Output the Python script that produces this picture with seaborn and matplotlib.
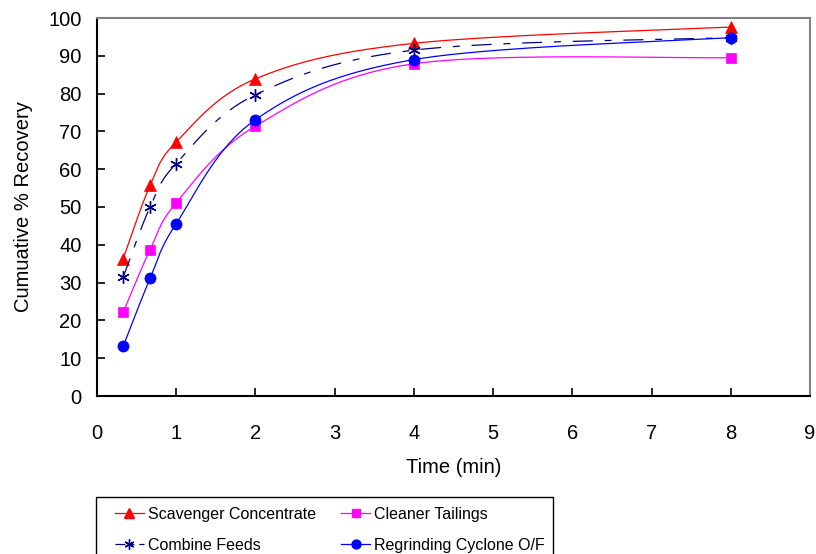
import numpy as np
import pandas as pd
import matplotlib
matplotlib.use("Agg")
import matplotlib.pyplot as plt
import seaborn as sns
from matplotlib.lines import Line2D
from matplotlib.patches import Rectangle

time_min = [0.33, 0.67, 1, 2, 4, 8]
scavenger = [36.3, 55.7, 67.2, 83.9, 93.3, 97.6]
cleaner = [22.1, 38.7, 51.1, 71.4, 87.9, 89.5]
combine = [31.4, 50.0, 61.5, 79.7, 91.5, 94.8]
regrind = [13.1, 31.1, 45.6, 73.1, 89.0, 94.8]
series_names = ["Scavenger Concentrate", "Cleaner Tailings", "Combine Feeds", "Regrinding Cyclone O/F"]
x_ticks = [0, 1, 2, 3, 4, 5, 6, 7, 8, 9]
y_ticks = [0, 10, 20, 30, 40, 50, 60, 70, 80, 90, 100]


def smooth(xs, ys, n=40):
    # Excel-style smoothed line: cubic Bezier through the points
    P = np.column_stack([xs, ys]).astype(float)
    out = []
    m = len(P)
    for i in range(m - 1):
        p0 = P[i - 1] if i > 0 else P[i]
        p1 = P[i]
        p2 = P[i + 1]
        p3 = P[i + 2] if i + 2 < m else P[i + 1]
        c1 = p1 + (p2 - p0) / 6.0
        c2 = p2 - (p3 - p1) / 6.0
        t = np.linspace(0, 1, n)[:, None]
        seg = ((1 - t) ** 3) * p1 + 3 * ((1 - t) ** 2) * t * c1 + 3 * (1 - t) * t ** 2 * c2 + t ** 3 * p2
        out.append(seg if i == 0 else seg[1:])
    return np.vstack(out)


plt.rcParams['font.family'] = ['Liberation Sans', 'DejaVu Sans']

fig = plt.figure(figsize=(8.16, 5.54), dpi=100)
ax = fig.add_axes([97 / 816, 1 - 396 / 554, (810 - 97) / 816, (396 - 18) / 554])

styles = [
    dict(color="#FF0000", marker="^", ms=9, ls="-", mfc="#FF0000"),
    dict(color="#FF00FF", marker="s", ms=7, ls="-", mfc="#FF00FF"),
    dict(color="#000080", marker=(6, 2, 0), ms=9, ls=(0, (16, 9.5, 5.5, 9.5)), mfc="#000080"),
    dict(color="#0000FF", marker="o", ms=8, ls="-", mfc="#0000FF"),
]
data = [scavenger, cleaner, combine, regrind]

for name, ys, st in zip(series_names, data, styles):
    curve = smooth(time_min, ys)
    df_c = pd.DataFrame({"x": curve[:, 0], "y": curve[:, 1]})
    sns.lineplot(data=df_c, x="x", y="y", sort=False, ax=ax, color=st["color"],
                 linewidth=0.9, linestyle=st["ls"])
    df_p = pd.DataFrame({"x": time_min, "y": ys})
    ax.plot(df_p["x"], df_p["y"], linestyle="none", marker=st["marker"], markersize=st["ms"],
            color=st["color"], markerfacecolor=st["mfc"],
            markeredgewidth=1.0 if st["marker"] == (6, 2, 0) else 0.5)

ax.set_xlim(0, 9)
ax.set_ylim(0, 100)
ax.set_xticks(x_ticks)
ax.set_yticks(y_ticks)
ax.tick_params(axis="x", direction="in", length=6, width=1.2, pad=20, labelsize=14.5)
ax.tick_params(axis="y", direction="in", length=6, width=1.2, pad=11, labelsize=14.5)
ax.set_xlabel("Time (min)", fontsize=14.5, labelpad=11)
ax.set_ylabel("Cumuative % Recovery", fontsize=14.5, labelpad=11)
for s in ["left", "bottom"]:
    ax.spines[s].set_color("black")
    ax.spines[s].set_linewidth(1.5)
for s in ["top", "right"]:
    ax.spines[s].set_color("#808080")
    ax.spines[s].set_linewidth(1.5)
ax.grid(False)
ax.set_facecolor("white")

# legend box
fig.patches.append(Rectangle((96 / 816, -0.05), (553 - 96) / 816, 1 - 497 / 554 + 0.05,
                             transform=fig.transFigure, fill=False, edgecolor="black",
                             linewidth=1.0, zorder=1))

handles = []
for name, st in zip(series_names, styles):
    handles.append(Line2D([0], [0], color=st["color"], linestyle=st["ls"] if st["ls"] == "-" else (0, (8, 4, 3, 4)),
                          linewidth=0.9, marker=st["marker"], markersize=st["ms"] * 0.8,
                          markerfacecolor=st["mfc"]))
order = [0, 2, 1, 3]
leg = fig.legend([handles[i] for i in order], [series_names[i] for i in order], ncol=2,
                 loc="upper left", bbox_to_anchor=(115 / 816, 1 - 507 / 554), borderaxespad=0,
                 borderpad=0, frameon=False, prop=dict(size=11.5),
                 handlelength=1.8, handletextpad=0.25, columnspacing=1.6, labelspacing=1.0)

fig.savefig("out.png", dpi=100)
